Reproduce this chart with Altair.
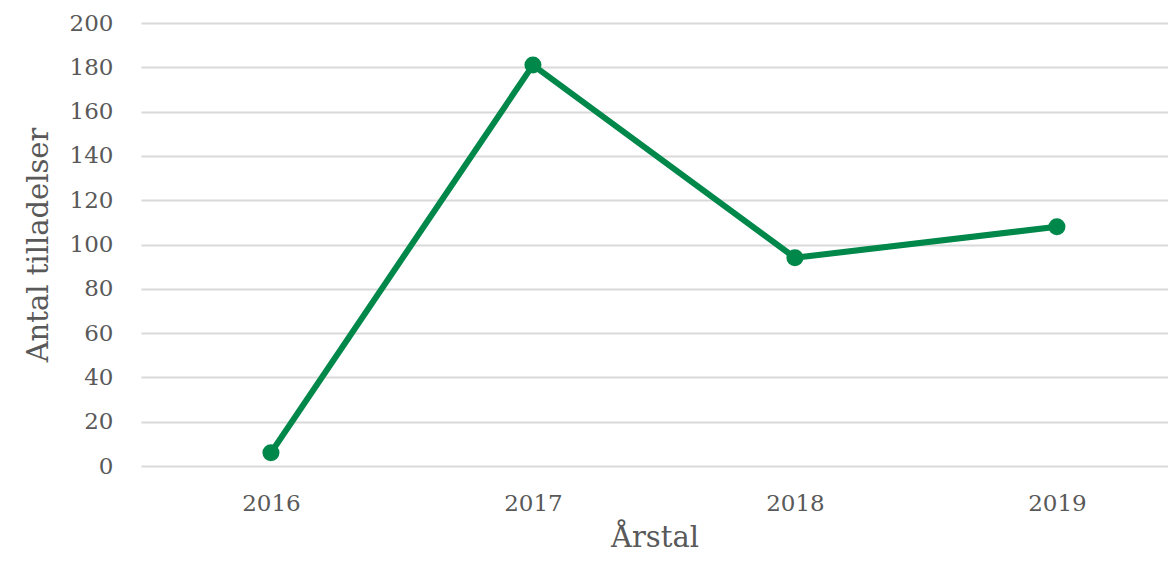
import altair as alt
import pandas as pd

years = [2016, 2017, 2018, 2019]
values = [6, 181, 94, 108]

df = pd.DataFrame({"Årstal": years, "Antal": values})

FONT = "DejaVu Serif"
GREY = "#595959"

base = alt.Chart(df).encode(
    x=alt.X("Årstal:Q",
            scale=alt.Scale(domain=[2015.504, 2019.424], nice=False, zero=False),
            axis=alt.Axis(title="Årstal", values=years, format="d", labelAngle=0,
                          domain=False, ticks=False, grid=False, labelFlush=False,
                          labelFont=FONT, labelFontSize=23, labelColor=GREY,
                          labelPadding=26, titleFont=FONT, titleFontSize=29,
                          titleFontWeight="normal", titleColor=GREY, titlePadding=8)),
    y=alt.Y("Antal:Q", scale=alt.Scale(domain=[0, 200]),
            axis=alt.Axis(title="Antal tilladelser", values=list(range(0, 201, 20)),
                          domain=False, ticks=False, gridColor="#d9d9d9", gridWidth=2,
                          labelFont=FONT, labelFontSize=23, labelColor=GREY, labelPadding=28,
                          titleFont=FONT, titleFontSize=29, titleFontWeight="normal",
                          titleColor=GREY, titlePadding=16)),
)

line = base.mark_line(color="#00874A", strokeWidth=6, strokeCap="round", strokeJoin="round")
pts = base.mark_point(color="#00874A", filled=True, opacity=1, size=290)

chart = (line + pts).properties(
    width=1027, height=443,
    autosize=alt.AutoSizeParams(type="none"),
    padding={"left": 133, "top": 15, "right": 0, "bottom": 88},
).configure_view(stroke=None)

chart.save("out.html", embed_options={"renderer": "svg", "actions": False})
